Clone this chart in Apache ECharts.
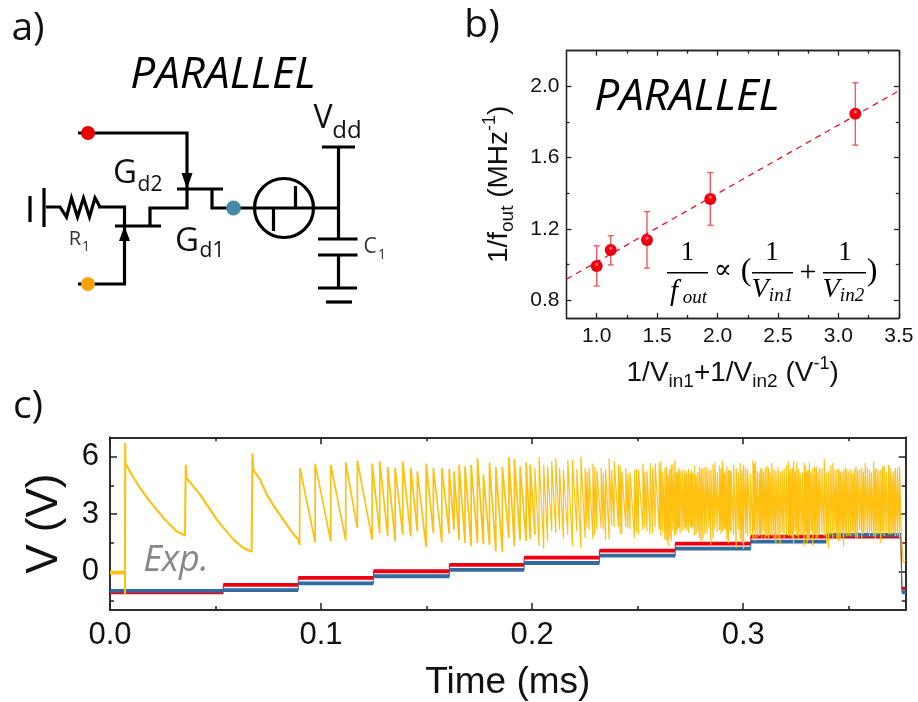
<!DOCTYPE html>
<html>
<head>
<meta charset="utf-8">
<style>html,body{margin:0;padding:0;background:#fff}#c{width:918px;height:702px}</style>
<script src="https://cdn.jsdelivr.net/npm/echarts@6/dist/echarts.min.js"></script>
</head>
<body>
<div id="c"></div>
<script>
// Panel b data
const bX = [1.0, 1.116, 1.416, 1.94, 3.14];
const bY = [0.992, 1.082, 1.138, 1.368, 1.846];
const bErrHigh = [1.105, 1.162, 1.297, 1.516, 2.02];
const bErrLow = [0.88, 0.998, 0.98, 1.22, 1.67];
const fitX = [0.75, 3.5];
const fitY = [0.918, 1.975];
const bXTicks = [1.0, 1.5, 2.0, 2.5, 3.0, 3.5];
const bXMinor = [1.25, 1.75, 2.25, 2.75, 3.25];
const bYTicks = [0.8, 1.2, 1.6, 2.0];
const bYMinor = [1.0, 1.4, 1.8];

// Panel c data
const cXTicks = [0, 0.1, 0.2, 0.3];
const cXMinor = [0.05, 0.15, 0.25, 0.35];
const cYTicks = [0, 3, 6];
const cYMinor = [-1.5, 1.5, 4.5];
const redT = [0, 0.0537, 0.0892, 0.1248, 0.1608, 0.1962, 0.2319, 0.2678, 0.3036, 0.3747, 0.3752, 0.377];
const redV = [-1.08, -0.69, -0.33, 0.02, 0.35, 0.73, 1.09, 1.46, 1.82, 1.82, -0.89, -0.89];
const blueT = [0, 0.0537, 0.0892, 0.1248, 0.1608, 0.1962, 0.2319, 0.2678, 0.3036, 0.3396, 0.3747, 0.3752, 0.377];
const blueV = [-1.0, -0.96, -0.61, -0.24, 0.09, 0.45, 0.83, 1.2, 1.56, 1.91, 1.91, -1.08, -1.08];
const flatT = [0, 0.0071];
const flatV = [-0.05, -0.05];
const headT = [0.0071, 0.0072, 0.0073, 0.0103, 0.0142, 0.0182, 0.0221, 0.0253, 0.0284, 0.0316, 0.0355, 0.0358, 0.0359, 0.0363, 0.0395, 0.0427, 0.0466, 0.0506, 0.0545, 0.0585, 0.0632, 0.0671, 0.0674, 0.0675, 0.0679, 0.0711, 0.0743, 0.0782, 0.0821, 0.0853, 0.0877, 0.0892, 0.0898];
const headV = [-1.2, 6.7, 5.66, 5.05, 4.36, 3.75, 3.23, 2.8, 2.45, 2.1, 1.88, 1.88, 5.57, 4.88, 4.44, 4.01, 3.37, 2.71, 2.19, 1.67, 1.23, 1.04, 1.04, 6.15, 5.31, 4.79, 4.01, 3.32, 2.71, 2.19, 1.84, 1.7, 1.4];
const spikeT = [
  0.0900, 0.0972, 0.1046, 0.1117, 0.1172, 0.1242, 0.1278, 0.1316, 0.1351,
  0.1387, 0.1425, 0.1456, 0.1498, 0.1532, 0.1572, 0.1607, 0.1630, 0.1654, 0.1682, 0.1711, 0.1741, 0.1769, 0.1798, 0.1828, 0.1859, 0.1890, 0.1916, 0.1943, 0.1972,
  0.1991, 0.2013, 0.2033, 0.2055, 0.2073, 0.2093, 0.2112, 0.2130, 0.2148, 0.2169, 0.2191, 0.2212, 0.2231, 0.2251, 0.2270, 0.2288, 0.2307, 0.2327, 0.2348, 0.2365, 0.2389, 0.2409, 0.2425, 0.2444, 0.2464, 0.2485, 0.2504, 0.2525, 0.2544, 0.2559, 0.2583, 0.2602,
  0.2610, 0.2629, 0.2645, 0.2659, 0.2676, 0.2689, 0.2701, 0.2720, 0.2733, 0.2749, 0.2760, 0.2777, 0.2793, 0.2809, 0.2828, 0.2847, 0.2866, 0.2888, 0.2902, 0.2915, 0.2930, 0.2943, 0.2967, 0.2986, 0.3002, 0.3021, 0.3046, 0.3057, 0.3077, 0.3088, 0.3104, 0.3120, 0.3136, 0.3155, 0.3175, 0.3194, 0.3215,
  0.3226, 0.3239, 0.3254, 0.3270, 0.3289, 0.3302, 0.3314, 0.3330, 0.3346, 0.3362, 0.3384, 0.3405, 0.3425, 0.3444, 0.3460, 0.3476, 0.3491, 0.3510, 0.3526, 0.3542, 0.3562, 0.3578, 0.3599, 0.3618, 0.3634, 0.3652, 0.3668, 0.3689, 0.3705, 0.3721, 0.3741
];
const spikeLow = [
  1.46, 1.53, 1.58, 1.63, 2.27, 1.67, 2.0, 1.84, 1.6,
  1.93, 1.84, 2.10, 1.28, 2.0, 1.53, 1.98, 2.19, 1.63, 1.49, 1.32, 1.49, 1.41, 1.41, 1.06, 1.01, 1.75, 1.32, 1.63, 1.58,
  1.70, 1.93, 1.32, 1.18, 1.58, 2.10, 2.0, 2.19, 1.70, 1.93, 1.32, 2.10, 1.23, 1.75, 2.19, 1.70, 2.19, 2.27, 1.63, 1.67, 2.33, 2.33, 1.93, 2.33, 2.22, 1.75, 1.93, 2.19, 2.10, 1.93, 2.33, 2.19,
  1.84, 1.67, 1.32, 1.58, 1.84, 2.19, 2.0, 2.22, 2.15, 2.36, 2.33, 1.93, 1.75, 1.67, 2.0, 1.41, 2.19, 2.15, 2.10, 2.19, 1.49, 2.0, 1.23, 1.67, 1.18, 1.84, 1.75, 1.58, 1.84, 1.70, 1.67, 1.75, 1.84, 1.41, 1.41, 1.75, 1.84,
  1.84, 1.41, 1.84, 1.93, 1.32, 1.41, 1.67, 1.32, 1.67, 1.93, 1.84, 1.23, 1.75, 1.75, 1.67, 1.32, 1.84, 1.84, 1.93, 1.75, 1.67, 2.0, 1.84, 1.84, 1.93, 1.49, 1.84, 1.93, 1.93, 1.84, 1.67
];
const spikeHigh = [
  5.40, 5.63, 5.57, 5.69, 5.78, 5.63, 5.75, 5.45, 5.40,
  5.75, 5.40, 5.23, 5.63, 5.40, 5.40, 5.35, 5.23, 5.57, 5.49, 5.57, 5.92, 5.05, 5.69, 5.45, 5.45, 5.97, 5.87, 5.49, 5.69,
  5.57, 5.40, 5.97, 5.57, 5.49, 5.75, 5.92, 5.40, 5.31, 5.80, 5.83, 5.35, 5.97, 5.40, 5.40, 5.63, 5.28, 5.40, 5.35, 5.92, 5.75, 5.57, 5.23, 5.40, 5.17, 5.28, 5.31, 5.63, 5.23, 5.66, 5.63, 5.66,
  5.75, 5.40, 5.05, 5.57, 5.80, 5.14, 5.28, 5.31, 5.23, 5.14, 5.14, 5.05, 5.45, 5.40, 5.45, 5.31, 5.69, 5.52, 5.75, 5.23, 5.28, 5.23, 5.40, 5.66, 5.57, 5.31, 5.80, 5.75, 5.14, 5.40, 5.40, 5.40, 5.66, 5.23, 5.23, 5.40, 5.75,
  5.35, 5.75, 5.69, 5.14, 5.66, 5.23, 5.69, 5.40, 5.49, 5.40, 5.87, 5.23, 5.66, 5.35, 5.23, 5.31, 5.35, 5.35, 5.35, 5.31, 5.40, 5.66, 5.31, 5.75, 5.40, 5.31, 5.49, 5.57, 5.14, 5.40, 5.49
];
// Further spikes estimated where the trace becomes too dense to separate
const denseT = [
  0.2260, 0.2297, 0.2337, 0.2377, 0.2417, 0.2454, 0.2494, 0.2534, 0.2571, 0.2606,
  0.2619, 0.2637, 0.2652, 0.2667, 0.2683, 0.2695, 0.2711, 0.2727, 0.2741, 0.2755,
  0.2769, 0.2785, 0.2801, 0.2819, 0.2838, 0.2857, 0.2877, 0.2895, 0.2909, 0.2923,
  0.2937, 0.2955, 0.2977, 0.2994, 0.3012, 0.3034, 0.3052, 0.3067, 0.3083, 0.3096,
  0.3112, 0.3128, 0.3146, 0.3165, 0.3185, 0.3205, 0.3221, 0.3233, 0.3247, 0.3262,
  0.3280, 0.3296, 0.3308, 0.3322, 0.3338, 0.3354, 0.3373, 0.3395, 0.3415, 0.3435,
  0.3452, 0.3468, 0.3484, 0.3500, 0.3518, 0.3534, 0.3552, 0.3570, 0.3589, 0.3608,
  0.3626, 0.3643, 0.3660, 0.3678, 0.3697, 0.3713, 0.3731
];
const denseLow = [
  2.30, 1.90, 2.20, 2.40, 1.95, 2.25, 2.05, 2.30, 2.00, 2.20,
  2.05, 1.62, 1.78, 2.12, 1.95, 2.28, 2.10, 2.31, 2.02, 2.25,
  1.88, 2.08, 1.55, 1.92, 2.30, 1.72, 2.06, 1.98, 2.22, 1.66,
  2.12, 1.90, 2.20, 1.48, 2.02, 1.87, 2.15, 1.76, 1.95, 2.10,
  1.83, 1.98, 1.62, 1.70, 2.05, 1.92, 1.98, 1.75, 2.10, 1.68,
  1.90, 2.05, 1.62, 2.12, 1.95, 1.78, 2.05, 1.50, 1.92, 2.02,
  1.58, 2.08, 1.98, 1.88, 2.12, 1.72, 2.16, 1.96, 2.02, 2.08,
  1.70, 1.98, 2.10, 2.02, 1.96, 2.06, 1.88
];
const denseHigh = [
  5.20, 5.45, 5.15, 5.30, 5.50, 5.10, 5.35, 5.20, 5.40, 5.25,
  5.22, 5.48, 5.33, 5.60, 5.18, 5.41, 5.25, 5.12, 5.37, 5.28,
  5.50, 5.19, 5.35, 5.44, 5.27, 5.58, 5.21, 5.39, 5.13, 5.46,
  5.32, 5.55, 5.17, 5.29, 5.43, 5.10, 5.62, 5.24, 5.38, 5.20,
  5.52, 5.15, 5.34, 5.47, 5.26, 5.56, 5.11, 5.42, 5.23, 5.36,
  5.18, 5.51, 5.30, 5.16, 5.45, 5.22, 5.40, 5.14, 5.53, 5.28,
  5.37, 5.19, 5.44, 5.25, 5.12, 5.48, 5.33, 5.21, 5.41, 5.16,
  5.35, 5.26, 5.50, 5.18, 5.38, 5.24, 5.43
];
const tailT = [0.3749, 0.3752, 0.3757, 0.377];
const tailV = [2.0, 1.6, 0.5, 0.6];
const splitTime = 0.2;

const FONT = '"Liberation Sans", Arial, sans-serif';
const UI = '"Open Sans", sans-serif';
const SERIF = '"Liberation Serif", serif';

const spikes = [];
spikeT.forEach((t, i) => spikes.push([t, spikeLow[i], spikeHigh[i]]));
denseT.forEach((t, i) => spikes.push([t, denseLow[i], denseHigh[i]]));
spikes.sort((a, b) => a[0] - b[0]);
const yellowEarly = [[headT[headT.length - 1], headV[headV.length - 1]]];
const yellowLate = [];
spikes.forEach(s => {
  const target = s[0] < splitTime ? yellowEarly : yellowLate;
  if (target === yellowLate && yellowLate.length === 0) yellowEarly.push([s[0], s[1]]);
  target.push([s[0], s[1]], [s[0], s[2]]);
});
tailT.forEach((t, i) => yellowLate.push([t, tailV[i]]));

function plateaus(ts, vs) {
  const out = [];
  for (let i = 0; i < ts.length - 1; i++) {
    out.push([ts[i], vs[i]], [ts[i + 1], vs[i]], [ts[i + 1], null]);
  }
  return out;
}

const grids = [
  { left: 566.5, top: 50.7, width: 332.3, height: 267.3 },
  { left: 110, top: 437.3, width: 795.7, height: 173.4 }
];

function axis(g, pos, min, max, ticks, len, lw, extra) {
  return Object.assign({
    type: 'value', gridIndex: g, position: pos, min, max, scale: true,
    splitLine: { show: false },
    axisLine: { show: true, onZero: false, lineStyle: { color: '#222', width: lw } },
    axisTick: { show: true, inside: true, length: len, customValues: ticks, lineStyle: { color: '#222', width: lw } },
    axisLabel: { show: false }
  }, extra || {});
}
function label(values, size, margin, fmt) {
  return { show: true, customValues: values, fontSize: size, margin, color: '#111', fontFamily: FONT, formatter: fmt };
}
const f1 = v => v.toFixed(1);
const f0 = v => String(v);
const nameRich = {
  m: { fontSize: 28, fontFamily: FONT, color: '#111', lineHeight: 36 },
  s: { fontSize: 19, fontFamily: FONT, color: '#111', verticalAlign: 'bottom', lineHeight: 19 },
  u: { fontSize: 18, fontFamily: FONT, color: '#111', verticalAlign: 'top', lineHeight: 18 }
};

const xAxes = [
  axis(0, 'bottom', 0.75, 3.5, bXTicks, 5, 1.3, {
    axisLabel: label(bXTicks, 21, 8, f1),
    name: '{m|1/V}{s|in1}{m|+1/V}{s|in2}{m| (V}{u|-1}{m|)}', nameLocation: 'middle', nameGap: 37,
    nameTextStyle: { rich: nameRich }
  }),
  axis(0, 'top', 0.75, 3.5, bXTicks, 5, 1.3),
  axis(0, 'bottom', 0.75, 3.5, bXMinor, 3, 1.3),
  axis(0, 'top', 0.75, 3.5, bXMinor, 3, 1.3),
  axis(1, 'bottom', 0, 0.377, cXTicks, 7, 1.5, {
    axisLabel: label(cXTicks, 31, 10, f1),
    name: 'Time (ms)', nameLocation: 'middle', nameGap: 54,
    nameTextStyle: { fontSize: 37, fontFamily: FONT, color: '#111' }
  }),
  axis(1, 'top', 0, 0.377, cXTicks, 7, 1.5),
  axis(1, 'bottom', 0, 0.377, cXMinor, 4, 1.5),
  axis(1, 'top', 0, 0.377, cXMinor, 4, 1.5)
];
const yAxes = [
  axis(0, 'left', 0.7, 2.2, bYTicks, 5, 1.3, {
    axisLabel: label(bYTicks, 21, 7, f1),
    name: '{m|1/f}{s|out}{m| (MHz}{u|-1}{m|)}', nameLocation: 'middle', nameGap: 49, nameRotate: 90,
    nameTextStyle: { rich: nameRich }
  }),
  axis(0, 'right', 0.7, 2.2, bYTicks, 5, 1.3),
  axis(0, 'left', 0.7, 2.2, bYMinor, 3, 1.3),
  axis(0, 'right', 0.7, 2.2, bYMinor, 3, 1.3),
  axis(1, 'left', -2, 7, cYTicks, 7, 1.5, {
    axisLabel: label(cYTicks, 31, 11, f0),
    name: 'V (V)', nameLocation: 'middle', nameGap: 43, nameRotate: 90,
    nameTextStyle: { fontSize: 44, fontFamily: FONT, color: '#111' }
  }),
  axis(1, 'right', -2, 7, cYTicks, 7, 1.5),
  axis(1, 'left', -2, 7, cYMinor, 4, 1.5),
  axis(1, 'right', -2, 7, cYMinor, 4, 1.5)
];

// Schematic and annotation drawing helpers
const g = [];
function wire(points, w) {
  g.push({ type: 'polyline', silent: true, shape: { points }, style: { stroke: '#000', lineWidth: w || 3.2, fill: null, lineJoin: 'miter' }, z: 20 });
}
function dot(x, y, r, fill) {
  g.push({ type: 'circle', silent: true, shape: { cx: x, cy: y, r }, style: { fill }, z: 21 });
}
function tri(points) {
  g.push({ type: 'polygon', silent: true, shape: { points }, style: { fill: '#000' }, z: 20 });
}
function txt(s, x, y, size, opts) {
  g.push({ type: 'text', silent: true, x, y, z: 22, style: Object.assign({
    text: s, fontSize: size, fontFamily: UI, fill: '#111', align: 'center', verticalAlign: 'middle'
  }, opts || {}) });
}

txt('a)', 28, 29, 39);
txt('b)', 482, 26, 39);
txt('c)', 28, 407, 39);
txt('PARALLEL', 223, 75, 44, { fontStyle: 'italic', fill: '#000' });
txt('PARALLEL', 687, 97, 44, { fontStyle: 'italic', fill: '#000' });
txt('Exp.', 176, 561, 36, { fontStyle: 'italic', fill: '#888' });

wire([[78, 133], [187, 133], [187, 208], [150, 208], [150, 226]]);
tri([[181.5, 173], [192.5, 173], [187, 189]]);
wire([[177, 189], [223, 189]]);
wire([[212, 189], [212, 208], [233, 208]]);
wire([[115, 226], [161, 226]]);
wire([[78, 284], [124.5, 284], [124.5, 207], [98, 207]]);
tri([[119, 241], [130, 241], [124.5, 226]]);
wire([[46, 207], [60, 207], [66.5, 217], [71.5, 198], [77.5, 217], [83.5, 198], [89.5, 217], [95, 198], [100, 207]]);
wire([[44, 188], [44, 227]]);
wire([[30, 196], [30, 222]]);
dot(88, 133, 7, '#EE0000');
dot(88, 284, 7, '#F5A30A');
dot(233.5, 208, 7.4, '#418AA8');
wire([[233, 208], [338, 208]]);
g.push({ type: 'circle', silent: true, shape: { cx: 284, cy: 208, r: 29.5 }, style: { stroke: '#000', lineWidth: 3.2, fill: null }, z: 20 });
wire([[295.5, 186], [295.5, 208]]);
wire([[273.5, 208], [273.5, 231]]);
wire([[338.5, 147], [338.5, 239]]);
wire([[322, 147], [355, 147]]);
wire([[318, 239], [357.5, 239]]);
wire([[318, 255], [357.5, 255]]);
wire([[338.5, 255], [338.5, 288]]);
wire([[318, 288], [357, 288]]);
wire([[326, 302], [352, 302]]);

txt('G', 125, 174, 33);
txt('d2', 150, 185, 21);
txt('G', 187, 242, 33);
txt('d1', 212, 251, 21);
txt('R', 75, 239, 20, { fill: '#333' });
txt('1', 86, 247, 14, { fill: '#333' });
txt('C', 370, 247, 21, { fill: '#333' });
txt('1', 382, 255, 14, { fill: '#333' });
txt('V', 323, 119, 32);
txt('dd', 347, 131, 24);

// Formula inside panel b
wire([[667, 272.7], [708, 272.7]], 1.6);
wire([[752, 272.7], [793, 272.7]], 1.6);
wire([[823, 272.7], [866, 272.7]], 1.6);
const num = { fontFamily: SERIF, fill: '#000' };
const ital = Object.assign({ fontStyle: 'italic' }, num);
txt('1', 687.5, 253, 27, num);
txt('1', 772, 253, 27, num);
txt('1', 845, 253, 27, num);
txt('f', 674, 292, 29, ital);
txt('out', 695, 298, 19, ital);
txt('V', 760, 290, 28, ital);
txt('in1', 781, 296, 19, ital);
txt('V', 831, 290, 28, ital);
txt('in2', 852, 296, 19, ital);
txt('\u221D', 723, 271, 27, { fontFamily: '"DejaVu Serif", serif', fill: '#000' });
txt('(', 746, 272, 32, num);
txt('+', 808, 273, 30, num);
txt(')', 872, 272, 32, num);

const chart = echarts.init(document.getElementById('c'), null, { renderer: 'canvas' });
chart.setOption({
  animation: false,
  backgroundColor: '#fff',
  grid: grids,
  xAxis: xAxes,
  yAxis: yAxes,
  graphic: { elements: g },
  series: [
    {
      name: 'fit', type: 'line', xAxisIndex: 0, yAxisIndex: 0, symbol: 'none', silent: true,
      data: fitX.map((x, i) => [x, fitY[i]]),
      lineStyle: { color: '#F01020', width: 1.3, type: [6, 5] }
    },
    {
      name: 'error', type: 'custom', xAxisIndex: 0, yAxisIndex: 0, silent: true,
      data: bX.map((x, i) => [x, bErrLow[i], bErrHigh[i]]),
      renderItem: (p, api) => {
        const a = api.coord([api.value(0), api.value(1)]);
        const b = api.coord([api.value(0), api.value(2)]);
        const s = { stroke: '#F45A60', lineWidth: 1.4 };
        const mk = (x1, y1, x2, y2) => ({ type: 'line', shape: { x1, y1, x2, y2 }, style: s });
        return { type: 'group', children: [mk(a[0], a[1], b[0], b[1]), mk(a[0] - 3, a[1], a[0] + 3, a[1]), mk(b[0] - 3, b[1], b[0] + 3, b[1])] };
      }
    },
    {
      name: '1/fout', type: 'scatter', xAxisIndex: 0, yAxisIndex: 0, symbolSize: 12, silent: true, z: 5,
      data: bX.map((x, i) => [x, bY[i]]),
      itemStyle: { opacity: 1, color: { type: 'radial', x: 0.5, y: 0.35, r: 0.62, colorStops: [
        { offset: 0, color: '#FFB8B8' }, { offset: 0.28, color: '#F50010' }, { offset: 1, color: '#E40010' }] } }
    },
    {
      name: 'Vin1 risers', type: 'line', xAxisIndex: 4, yAxisIndex: 4, symbol: 'none', step: 'end', silent: true, z: 3,
      data: redT.map((t, i) => [t, redV[i]]),
      lineStyle: { color: '#EE0010', width: 1 }
    },
    {
      name: 'Vin1', type: 'line', xAxisIndex: 4, yAxisIndex: 4, symbol: 'none', silent: true, z: 3,
      data: plateaus(redT, redV), connectNulls: false,
      lineStyle: { color: '#EE0010', width: 3.8, cap: 'butt' }
    },
    {
      name: 'Vin2 risers', type: 'line', xAxisIndex: 4, yAxisIndex: 4, symbol: 'none', step: 'end', silent: true, z: 4,
      data: blueT.map((t, i) => [t, blueV[i]]),
      lineStyle: { color: '#336B9F', width: 1 }
    },
    {
      name: 'Vin2', type: 'line', xAxisIndex: 4, yAxisIndex: 4, symbol: 'none', silent: true, z: 4,
      data: plateaus(blueT, blueV), connectNulls: false,
      lineStyle: { color: '#336B9F', width: 3.8, cap: 'butt' }
    },
    {
      name: 'Vout rest', type: 'line', xAxisIndex: 4, yAxisIndex: 4, symbol: 'none', silent: true, z: 5,
      data: flatT.map((t, i) => [t, flatV[i]]),
      lineStyle: { color: '#FFC010', width: 3.6 }
    },
    {
      name: 'Vout decay', type: 'line', xAxisIndex: 4, yAxisIndex: 4, symbol: 'none', silent: true, z: 5,
      data: headT.map((t, i) => [t, headV[i]]),
      lineStyle: { color: '#FFC010', width: 2.1 }
    },
    {
      name: 'Vout', type: 'line', xAxisIndex: 4, yAxisIndex: 4, symbol: 'none', silent: true, z: 5,
      sampling: null, progressive: 0,
      data: yellowEarly,
      lineStyle: { color: '#FFC010', width: 1.7, join: 'bevel' }
    },
    {
      name: 'Vout dense', type: 'line', xAxisIndex: 4, yAxisIndex: 4, symbol: 'none', silent: true, z: 5,
      sampling: null, progressive: 0,
      data: yellowLate,
      lineStyle: { color: '#FFC010', width: 1.15, join: 'bevel' }
    }
  ]
});
</script>
</body>
</html>
